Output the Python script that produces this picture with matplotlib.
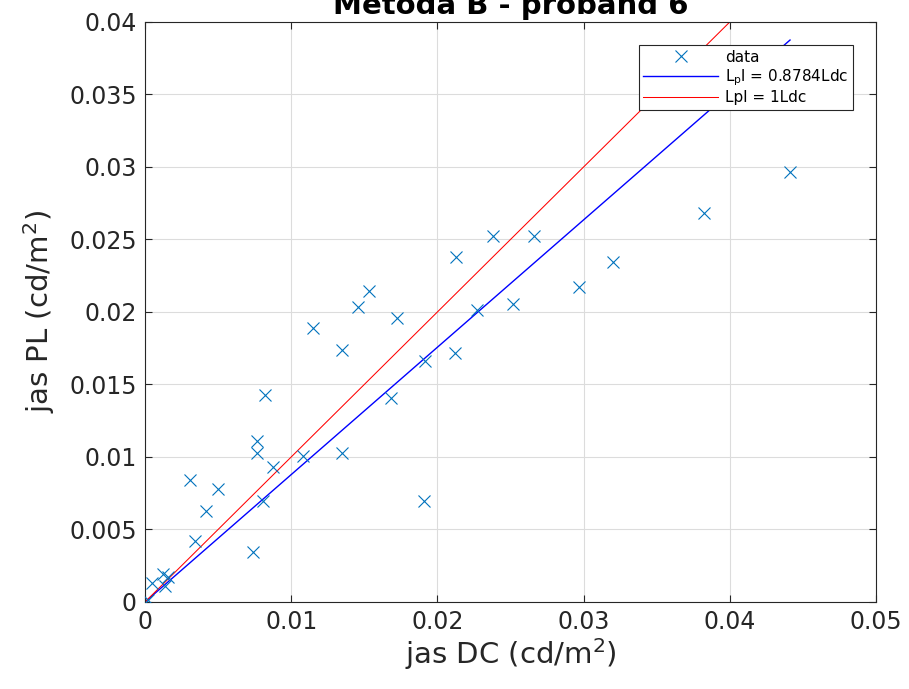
import numpy as np
import matplotlib
matplotlib.use("Agg")
import matplotlib.pyplot as plt

# Luminance measured with DC drive vs. PL drive (cd/m^2)
jas_dc = [0.0002, 0.00048, 0.0012, 0.0016, 0.0014, 0.0031, 0.0034, 0.0042,
          0.0050, 0.00737, 0.00764, 0.00764, 0.00809, 0.0082, 0.00878,
          0.01079, 0.01147, 0.01345, 0.01345, 0.01459, 0.01532, 0.0168,
          0.01726, 0.01915, 0.01908, 0.0212, 0.02127, 0.02269, 0.02383,
          0.02515, 0.02663, 0.02971, 0.03203, 0.03824, 0.04412]
jas_pl = [0.00014, 0.0013, 0.0019, 0.0017, 0.0011, 0.0084, 0.0042, 0.0063,
          0.0078, 0.00347, 0.0111, 0.0103, 0.00699, 0.0143, 0.00933,
          0.01005, 0.01888, 0.01738, 0.01026, 0.02032, 0.02145, 0.01405,
          0.01957, 0.0166, 0.00697, 0.0172, 0.02381, 0.02014, 0.02524,
          0.02055, 0.02524, 0.0217, 0.02347, 0.02685, 0.02963]

fit_slope = 0.8784
unit_slope = 1.0

x_ticks = [0, 0.01, 0.02, 0.03, 0.04, 0.05]
x_tick_labels = ["0", "0.01", "0.02", "0.03", "0.04", "0.05"]
y_ticks = [0, 0.005, 0.01, 0.015, 0.02, 0.025, 0.03, 0.035, 0.04]
y_tick_labels = ["0", "0.005", "0.01", "0.015", "0.02", "0.025", "0.03", "0.035", "0.04"]

plt.rcParams['font.family'] = ['DejaVu Sans']
fig = plt.figure(figsize=(9.09, 6.89), dpi=100)
ax = fig.add_axes([0.1595, 0.1263, 0.8042, 0.8418])

dc = np.asarray(jas_dc)
pl = np.asarray(jas_pl)
x_line = np.array([0.0, dc.max()])

ax.plot(dc, pl, linestyle='none', marker='x', color='#0072BD',
        markersize=9, markeredgewidth=0.8, label='data', zorder=3)
ax.plot(x_line, fit_slope * x_line, color='#0000FF', linewidth=1.0,
        label=r'L$_{\mathrm{p}}$l = 0.8784Ldc', zorder=2)
ax.plot(x_line, unit_slope * x_line, color='#FF0000', linewidth=0.75,
        label='Lpl = 1Ldc', zorder=2)

ax.set_xlim(0, 0.05)
ax.set_ylim(0, 0.04)
ax.set_xticks(x_ticks)
ax.set_xticklabels(x_tick_labels)
ax.set_yticks(y_ticks)
ax.set_yticklabels(y_tick_labels)

ax.grid(True, color='#dcdcdc', linewidth=0.8)
ax.set_axisbelow(True)
for s in ax.spines.values():
    s.set_color('#262626')
    s.set_linewidth(0.8)
ax.tick_params(direction='in', length=5, width=0.8, colors='#262626',
               labelsize=17, top=True, right=True, pad=6)

ax.set_xlabel(r'jas DC (cd/m$^2$)', fontsize=21, color='#262626', labelpad=1)
ax.set_ylabel(r'jas PL (cd/m$^2$)', fontsize=21, color='#262626', labelpad=9)
ax.set_title('Metoda B - proband 6', fontsize=21, fontweight='bold', pad=6)

leg = ax.legend(loc='upper right', bbox_to_anchor=(0.9685, 0.960),
                borderaxespad=0, fontsize=11, handlelength=4.9,
                handletextpad=0.45, labelspacing=0.15, borderpad=0.3,
                fancybox=False, framealpha=1, edgecolor='#262626')
leg.get_frame().set_linewidth(0.8)

fig.savefig('out.png', dpi=100)
